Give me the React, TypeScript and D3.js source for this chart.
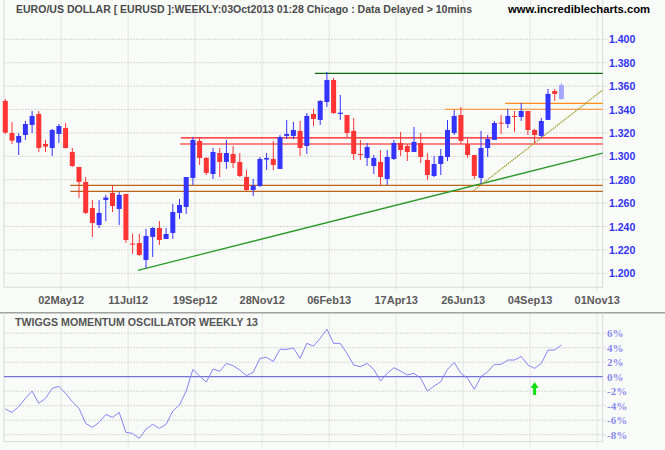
import React from "react";
import * as d3 from "d3";

// ---- data ----
const opens = [1.3473,1.3199,1.3117,1.3182,1.3268,1.3362,1.3105,1.3071,1.3191,1.3242,1.3037,1.2909,1.2781,1.2558,1.2413,1.2627,1.2687,1.2550,1.2678,1.2254,1.2259,1.2114,1.2311,1.2387,1.2293,1.2345,1.2516,1.2567,1.2815,1.3131,1.2986,1.2849,1.3028,1.2952,1.3020,1.2952,1.2823,1.2712,1.2746,1.2972,1.2977,1.2892,1.3174,1.3174,1.3217,1.3088,1.3362,1.3311,1.3464,1.3652,1.3362,1.3353,1.3217,1.3020,1.2986,1.2917,1.2952,1.2806,1.2977,1.3114,1.3088,1.3037,1.3114,1.2969,1.2832,1.2934,1.2994,1.3199,1.3353,1.3105,1.3011,1.2815,1.3071,1.3140,1.3288,1.3276,1.3345,1.3336,1.3387,1.3225,1.3174,1.3311,1.3558,1.3490];
const highs = [1.3490,1.3293,1.3197,1.3302,1.3387,1.3387,1.3140,1.3234,1.3276,1.3285,1.3071,1.2909,1.2823,1.2627,1.2627,1.2670,1.2755,1.2695,1.2678,1.2339,1.2336,1.2379,1.2396,1.2447,1.2387,1.2593,1.2635,1.2823,1.3165,1.3165,1.2994,1.3071,1.3071,1.3140,1.3088,1.3028,1.2883,1.2806,1.2994,1.3028,1.3131,1.3182,1.3311,1.3293,1.3302,1.3370,1.3405,1.3481,1.3721,1.3670,1.3524,1.3353,1.3328,1.3140,1.3114,1.3011,1.3054,1.3054,1.3140,1.3208,1.3105,1.3251,1.3199,1.3028,1.3003,1.3063,1.3311,1.3396,1.3422,1.3148,1.3011,1.3217,1.3182,1.3302,1.3353,1.3405,1.3387,1.3456,1.3387,1.3234,1.3328,1.3576,1.3576,1.3627];
const lows = [1.3191,1.3105,1.3011,1.3140,1.3199,1.3037,1.3037,1.3003,1.3114,1.3066,1.2909,1.2644,1.2507,1.2311,1.2387,1.2447,1.2524,1.2413,1.2259,1.2165,1.2148,1.2046,1.2140,1.2242,1.2293,1.2293,1.2464,1.2507,1.2755,1.2926,1.2840,1.2806,1.2823,1.2892,1.2900,1.2823,1.2704,1.2661,1.2738,1.2883,1.2883,1.2892,1.3148,1.3148,1.3003,1.3020,1.3259,1.3268,1.3422,1.3362,1.3311,1.3157,1.2969,1.2969,1.2917,1.2849,1.2755,1.2755,1.2969,1.3003,1.2960,1.3037,1.2943,1.2798,1.2823,1.2840,1.2960,1.3182,1.3105,1.2986,1.2806,1.2764,1.2994,1.3140,1.3191,1.3242,1.3208,1.3302,1.3182,1.3114,1.3157,1.3311,1.3473,1.3481];
const closes = [1.3202,1.3134,1.3174,1.3276,1.3345,1.3071,1.3083,1.3225,1.3259,1.3071,1.2917,1.2781,1.2516,1.2430,1.2516,1.2647,1.2575,1.2670,1.2285,1.2245,1.2157,1.2319,1.2387,1.2285,1.2336,1.2524,1.2584,1.2823,1.3140,1.2986,1.2858,1.3037,1.2952,1.3028,1.2943,1.2832,1.2712,1.2749,1.2977,1.2986,1.2926,1.3165,1.3191,1.3225,1.3071,1.3345,1.3319,1.3473,1.3652,1.3370,1.3373,1.3199,1.3020,1.3011,1.3080,1.2986,1.2823,1.2994,1.3114,1.3054,1.3037,1.3123,1.2994,1.2840,1.2934,1.3003,1.3225,1.3345,1.3131,1.3011,1.2832,1.3071,1.3148,1.3285,1.3279,1.3345,1.3336,1.3387,1.3225,1.3182,1.3302,1.3533,1.3533,1.3610];

const momentum = [-4.46,-4.92,-4.14,-2.99,-1.98,-3.68,-2.99,-1.61,-1.33,-2.30,-3.45,-4.37,-6.44,-6.99,-6.30,-5.20,-5.61,-4.92,-7.68,-7.82,-8.51,-7.22,-6.57,-7.13,-6.57,-4.74,-3.91,-1.98,1.01,0.09,-0.74,1.06,0.74,1.84,1.52,0.92,0.14,0.60,2.53,2.67,2.11,3.77,3.77,3.95,2.53,4.60,4.23,5.29,6.57,4.60,4.60,3.20,1.61,1.38,1.84,1.01,-0.60,0.46,1.24,0.78,0.23,0.46,-0.23,-1.98,-1.29,-0.69,1.01,1.98,0.46,-0.23,-1.75,0.00,0.69,1.70,1.70,2.30,2.30,2.80,1.61,1.15,1.84,3.68,3.68,4.37];

const dateLabels = ["02May12","11Jul12","19Sep12","28Nov12","06Feb13","17Apr13","26Jun13","04Sep13","01Nov13"];
const dateLabelIndex = [8.34,18.34,28.34,38.34,48.34,58.34,68.34,78.34,88.34];
const priceTicks = [1.2,1.22,1.24,1.26,1.28,1.3,1.32,1.34,1.36,1.38,1.4];
const oscTicks = [-8,-6,-4,-2,0,2,4,6];

const hLinePrices = [1.3709,1.3157,1.3105,1.2752,1.2701,1.3453,1.3402];
const hLineStartIndex = [46.2,26.2,26.1,9.7,9.7,74.6,65.6];
const hLineColors = ["#0b6b0b","#ff1010","#ff1010","#bd6416","#bd6416","#ff8a1c","#ff8a1c"];

const greenTrend = [[19.8,1.2026],[89.17,1.3027]];
const oliveTrend = [[69.85,1.2705],[89.17,1.3567]];
const arrowIndex = 79;
const arrowValue = -0.73;

const W = 665, H = 450;
const LEFT = 4, RIGHT = 602.7;
const MAIN_TOP = 0, MAIN_BOTTOM = 287.3;
const OSC_TOP = 312.7, OSC_BOTTOM = 441.7;

export default function App() {
  const x = d3.scaleLinear().domain([0, 83]).range([5.3, 5.3 + 83 * 6.7]);
  const y = d3.scaleLinear().domain([1.2, 1.4]).range([273.3, 39.3]);
  const yo = d3.scaleLinear().domain([-8, 6]).range([434.7, 333.2]);
  const last = opens.length - 1;
  const oscLine = d3.line<number>().x((_, i) => x(i)).y((v) => yo(v))(momentum) || "";
  const font = "'Liberation Sans', Arial, sans-serif";
  const bw = 5;

  return (
    <svg width={W} height={H} style={{ position: "fixed", left: 0, top: 0, display: "block" }} xmlns="http://www.w3.org/2000/svg">
      <rect x={0} y={0} width={W} height={H} fill="#f9fbf9" />
      {/* vertical grid */}
      {dateLabelIndex.map((d, k) => (
        <g key={"vg" + k}>
          <line x1={x(d)} x2={x(d)} y1={MAIN_TOP} y2={291} stroke="#e4e6e4" strokeWidth={1} />
          <line x1={x(d)} x2={x(d)} y1={OSC_TOP} y2={447} stroke="#e4e6e4" strokeWidth={1} />
        </g>
      ))}
      {/* horizontal grid main */}
      {priceTicks.map((p) => (
        <g key={"pt" + p}>
          <line x1={LEFT} x2={608} y1={y(p)} y2={y(p)} stroke="#d6d8d6" strokeDasharray="2,1" strokeWidth={1} />
          <text x={609} y={y(p) + 4} fontFamily={font} fontWeight="bold" fontSize={10.5} fill="#3232f2">{p.toFixed(3)}</text>
        </g>
      ))}
      {/* borders */}
      <line x1={LEFT} x2={LEFT} y1={MAIN_TOP} y2={MAIN_BOTTOM} stroke="#d8dad8" />
      <line x1={RIGHT} x2={RIGHT} y1={MAIN_TOP} y2={MAIN_BOTTOM} stroke="#d8dad8" />
      <line x1={LEFT} x2={RIGHT} y1={MAIN_BOTTOM} y2={MAIN_BOTTOM} stroke="#d8dad8" />

      {/* horizontal lines */}
      {hLinePrices.map((p, k) => (
        <line key={"hl" + k} x1={x(hLineStartIndex[k])} x2={RIGHT} y1={y(p)} y2={y(p)} stroke={hLineColors[k]} strokeWidth={1.2} />
      ))}
      {/* trendlines */}
      <line x1={x(greenTrend[0][0])} y1={y(greenTrend[0][1])} x2={x(greenTrend[1][0])} y2={y(greenTrend[1][1])} stroke="#2a9a2a" strokeWidth={1.3} />
      <line x1={x(oliveTrend[0][0])} y1={y(oliveTrend[0][1])} x2={x(oliveTrend[1][0])} y2={y(oliveTrend[1][1])} stroke="#a59f35" strokeWidth={1.3} strokeDasharray="1.5,0.8" />

      {/* candles */}
      {opens.map((o, i) => {
        const c = closes[i];
        const up = c >= o;
        const col = i === last ? "#a6a6ff" : up ? "#3434ff" : "#ff3434";
        const top = y(Math.max(o, c));
        const bot = y(Math.min(o, c));
        return (
          <g key={"c" + i}>
            <line x1={x(i)} x2={x(i)} y1={y(highs[i])} y2={y(lows[i])} stroke={col} strokeWidth={1} />
            <rect x={x(i) - bw / 2} y={top} width={bw} height={Math.max(1, bot - top)} fill={col} />
          </g>
        );
      })}

      {/* date labels */}
      {dateLabels.map((t, k) => (
        <text key={"dl" + k} x={x(dateLabelIndex[k])} y={304} textAnchor="middle" fontFamily={font} fontWeight="bold" fontSize={11} fill="#5a5a5a">{t}</text>
      ))}

      {/* title */}
      <text x={16} y={13} fontFamily={font} fontWeight="bold" fontSize={11} fill="#4a4a4a" textLength={456} lengthAdjust="spacingAndGlyphs">EURO/US DOLLAR [ EURUSD ]:WEEKLY:03Oct2013 01:28 Chicago : Data Delayed &gt; 10mins</text>
      <text x={508} y={13} fontFamily={font} fontWeight="bold" fontSize={11} fill="#000" textLength={142} lengthAdjust="spacingAndGlyphs">www.incrediblecharts.com</text>

      {/* oscillator panel */}
      <line x1={0} x2={W} y1={OSC_TOP} y2={OSC_TOP} stroke="#a0a2a0" strokeWidth={1.5} />
      {oscTicks.map((v) => (
        <g key={"ot" + v}>
          {v !== 0 && <line x1={LEFT} x2={607} y1={yo(v)} y2={yo(v)} stroke="#d6d8d6" strokeDasharray="2,1" />}
          <text x={607} y={yo(v) + 4} fontFamily="'Liberation Serif', 'DejaVu Serif', serif" fontWeight="bold" fontSize={11} fill="#8a8aee">{v + "%"}</text>
        </g>
      ))}
      <line x1={LEFT} x2={LEFT} y1={OSC_TOP} y2={OSC_BOTTOM} stroke="#d8dad8" />
      <line x1={RIGHT} x2={RIGHT} y1={OSC_TOP} y2={OSC_BOTTOM} stroke="#d8dad8" />
      <line x1={LEFT} x2={RIGHT} y1={OSC_BOTTOM} y2={OSC_BOTTOM} stroke="#d8dad8" />
      <line x1={LEFT} x2={RIGHT} y1={yo(0)} y2={yo(0)} stroke="#7272d8" strokeWidth={1.2} />
      <path d={oscLine} fill="none" stroke="#8484f4" strokeWidth={1} />
      <text x={15} y={325.5} fontFamily={font} fontWeight="bold" fontSize={11} fill="#555" textLength={243} lengthAdjust="spacingAndGlyphs">TWIGGS MOMENTUM OSCILLATOR WEEKLY 13</text>
      {/* arrow */}
      <g transform={`translate(${x(arrowIndex)},${yo(arrowValue)})`}>
        <path d="M0,0 L4,6 L1.5,6 L1.5,13 L-1.5,13 L-1.5,6 L-4,6 Z" fill="#10e010" />
      </g>
    </svg>
  );
}
